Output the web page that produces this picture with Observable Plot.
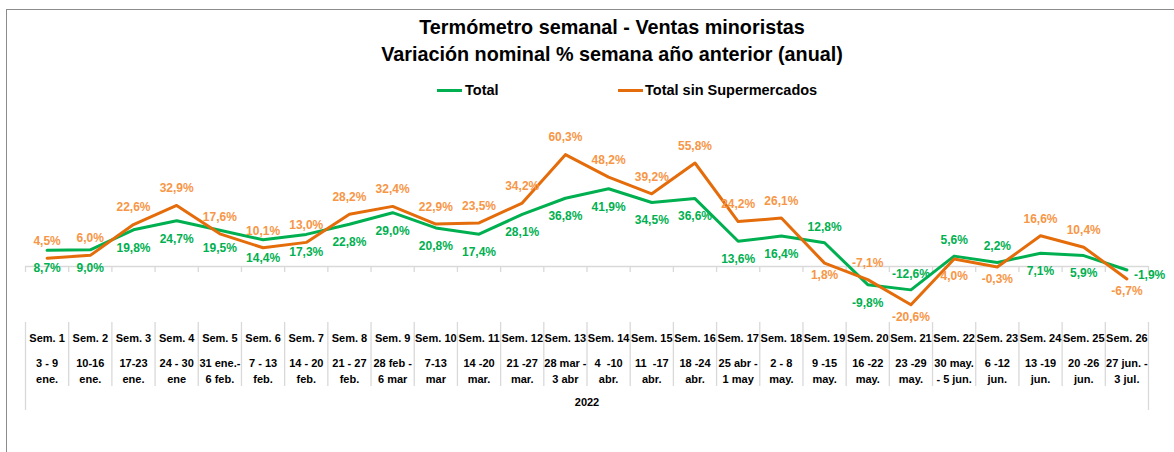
<!DOCTYPE html>
<html><head><meta charset="utf-8">
<script src="https://cdn.jsdelivr.net/npm/d3@7"></script>
<script src="https://cdn.jsdelivr.net/npm/@observablehq/plot@0.6"></script>
<style>
body{margin:0;background:#fff;width:1174px;height:452px;overflow:hidden;position:relative;font-family:"Liberation Sans",Arial,sans-serif;}
#frame{position:absolute;left:6px;top:9px;width:1300px;height:600px;border-top:1.5px solid #8c8c8c;border-left:1.5px solid #8c8c8c;box-sizing:border-box;}
#title{position:absolute;left:312px;top:14px;width:600px;text-align:center;font-weight:bold;font-size:19.8px;line-height:27px;color:#000;}
.sw{position:absolute;height:3px;width:25px;top:88.5px;}
.lg{position:absolute;top:81px;font-weight:bold;font-size:14.5px;line-height:18px;color:#000;white-space:nowrap;}
#chart{position:absolute;left:0;top:100px;}
</style></head>
<body>
<div id="frame"></div>
<div id="title">Termómetro semanal - Ventas minoristas<br>Variación nominal % semana año anterior (anual)</div>
<div class="sw" style="left:437px;background:#00B050"></div><div class="lg" style="left:465px">Total</div>
<div class="sw" style="left:618px;background:#E46C0A"></div><div class="lg" style="left:645px">Total sin Supermercados</div>
<div id="chart"></div>
<script>
const weeks = ["Sem. 1","Sem. 2","Sem. 3","Sem. 4","Sem. 5","Sem. 6","Sem. 7","Sem. 8","Sem. 9","Sem. 10","Sem. 11","Sem. 12","Sem. 13","Sem. 14","Sem. 15","Sem. 16","Sem. 17","Sem. 18","Sem. 19","Sem. 20","Sem. 21","Sem. 22","Sem. 23","Sem. 24","Sem. 25","Sem. 26"];
const dates = ["3 - 9\nene.","10-16\nene.","17-23\nene.","24 - 30\nene","31 ene.-\n6 feb.","7 - 13\nfeb.","14 - 20\nfeb.","21 - 27\nfeb.","28 feb -\n6 mar","7-13\nmar","14 -20\nmar.","21 -27\nmar.","28 mar -\n3 abr","4  -10\nabr.","11  -17\nabr.","18 -24\nabr.","25 abr -\n1 may","2 - 8\nmay.","9 -15\nmay.","16 -22\nmay.","23 -29\nmay.","30 may.\n- 5 jun.","6 -12\njun.","13 -19\njun.","20 -26\njun.","27 jun. -\n3 jul."];
const total = [8.7,9.0,19.8,24.7,19.5,14.4,17.3,22.8,29.0,20.8,17.4,28.1,36.8,41.9,34.5,36.6,13.6,16.4,12.8,-9.8,-12.6,5.6,2.2,7.1,5.9,-1.9];
const sinSuper = [4.5,6.0,22.6,32.9,17.6,10.1,13.0,28.2,32.4,22.9,23.5,34.2,60.3,48.2,39.2,55.8,24.2,26.1,1.8,-7.1,-20.6,4.0,-0.3,16.6,10.4,-6.7];
const yearLabel = "2022";
// label placement: a = above, b = below, B = further below, r = right
const totalPos = ["b","b","b","b","b","b","b","b","b","b","b","b","b","b","b","b","b","b","a","b","a","a","a","b","b","r"];
const sinSuperPos = ["a","a","a","a","a","a","a","a","a","a","a","a","a","a","a","a","a","a","b","a","b","B","b","a","a","b"];

const rows = weeks.map((w, i) => ({i, w, date: dates[i], total: total[i], sinSuper: sinSuper[i], tp: totalPos[i], sp: sinSuperPos[i]}));
const fmt = v => v.toFixed(1).replace(".", ",") + "%";
const k = 1.855;
const green = "#00B050", orange = "#E46C0A", orangeText = "#F79646";
const cx = d => d.i + 0.5;

function labels(key, posKey, color, off) {
  const out = [];
  for (const p of Object.keys(off)) {
    const o = off[p];
    out.push(Plot.text(rows.filter(d => d[posKey] === p), {
      x: cx, y: key, text: d => fmt(d[key]), fill: color, fontSize: 12, fontWeight: "bold",
      dy: o.dy, dx: o.dx || 0, textAnchor: o.anchor || "middle"
    }));
  }
  return out;
}

const chart = Plot.plot({
  width: 1174, height: 352,
  marginTop: 0, marginBottom: 40, marginLeft: 0, marginRight: 0,
  x: {domain: [0, 26], range: [25, 1148], axis: null},
  y: {domain: [-25, 65], range: [166 + 25 * k, 166 - 65 * k], axis: null},
  style: {fontFamily: '"Liberation Sans", Arial, sans-serif', background: "transparent", overflow: "visible"},
  marks: [
    Plot.ruleY([0], {x1: 0, x2: 26, stroke: "#d9d9d9", strokeWidth: 1.3}),
    Plot.ruleX(d3.range(0, 27), {y1: 0, y2: 0, insetBottom: -6, stroke: "#d9d9d9", strokeWidth: 1.3}),
    Plot.ruleX(d3.range(1, 26), {stroke: "#d9d9d9", strokeWidth: 1.3, insetTop: 222, insetBottom: 26}),
    Plot.ruleX([0, 26], {stroke: "#d9d9d9", strokeWidth: 1.3, insetTop: 222, insetBottom: 2}),
    Plot.text(rows, {x: cx, text: "w", frameAnchor: "bottom", dy: -71, fontSize: 11, fontWeight: "bold", fill: "#000"}),
    Plot.text(rows, {x: cx, text: "date", frameAnchor: "bottom", dy: -30, lineHeight: 1.45, fontSize: 11, fontWeight: "bold", fill: "#000"}),
    Plot.text([yearLabel], {x: 13, text: d => d, frameAnchor: "bottom", dy: -7, fontSize: 11, fontWeight: "bold", fill: "#000"}),
    Plot.line(rows, {x: cx, y: "total", stroke: green, strokeWidth: 3}),
    Plot.line(rows, {x: cx, y: "sinSuper", stroke: orange, strokeWidth: 3}),
    ...labels("total", "tp", green, {a: {dy: -16}, b: {dy: 18}, r: {dy: 5, dx: 7, anchor: "start"}}),
    ...labels("sinSuper", "sp", orangeText, {a: {dy: -17}, b: {dy: 12}, B: {dy: 17}})
  ]
});
document.getElementById("chart").appendChild(chart);
</script>
</body></html>
